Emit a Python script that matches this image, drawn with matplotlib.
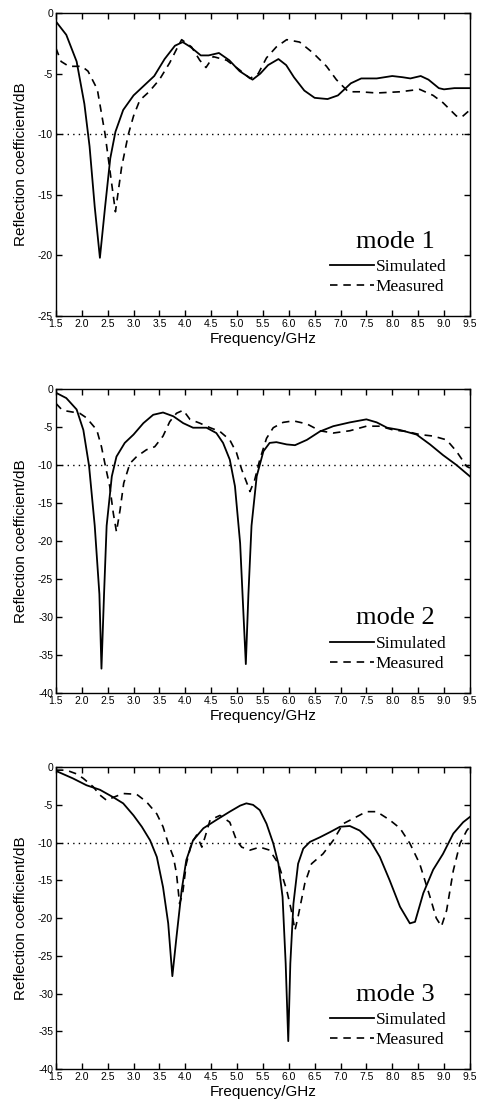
import numpy as np
import matplotlib
matplotlib.use('Agg')
import matplotlib.pyplot as plt

# --- DATA ---
# mode 1
f_sim1 = [1.5, 1.7, 1.9, 2.05, 2.15, 2.25, 2.35, 2.45, 2.55, 2.65, 2.8, 3.0, 3.2, 3.4, 3.6, 3.8,
          3.95, 4.1, 4.3, 4.45, 4.65, 4.85, 5.05, 5.3, 5.45, 5.6, 5.8, 5.95, 6.1, 6.3, 6.5, 6.75,
          6.95, 7.2, 7.4, 7.7, 8.0, 8.2, 8.35, 8.55, 8.7, 8.9, 9.0, 9.2, 9.5]
s_sim1 = [-0.7, -1.8, -4.0, -7.5, -11.0, -16.0, -20.2, -16.0, -12.0, -9.8, -8.0, -6.8, -6.0, -5.2, -3.8, -2.7,
          -2.4, -2.8, -3.5, -3.5, -3.3, -3.9, -4.8, -5.5, -5.0, -4.3, -3.8, -4.3, -5.3, -6.4, -7.0, -7.1,
          -6.8, -5.8, -5.4, -5.4, -5.2, -5.3, -5.4, -5.2, -5.5, -6.2, -6.3, -6.2, -6.2]
f_meas1 = [1.5, 1.6, 1.75, 2.0, 2.12, 2.3, 2.45, 2.55, 2.65, 2.77, 2.9, 3.0, 3.12, 3.3, 3.5, 3.7,
           3.83, 3.93, 4.12, 4.28, 4.4, 4.54, 4.8, 5.05, 5.25, 5.41, 5.57, 5.76, 5.96, 6.21, 6.47,
           6.73, 6.92, 7.15, 7.37, 7.7, 8.15, 8.53, 8.79, 8.98, 9.24, 9.34, 9.5]
s_meas1 = [-2.9, -4.0, -4.4, -4.4, -4.8, -6.3, -10.0, -13.2, -16.4, -12.7, -10.0, -8.5, -7.2, -6.5, -5.5, -4.1,
           -3.0, -2.2, -2.8, -3.9, -4.5, -3.6, -3.9, -4.7, -5.4, -5.0, -3.7, -2.8, -2.2, -2.4, -3.3,
           -4.4, -5.5, -6.5, -6.5, -6.6, -6.5, -6.3, -6.8, -7.4, -8.5, -8.6, -8.0]

# mode 2
f_sim2 = [1.5, 1.7, 1.9, 2.03, 2.14, 2.25, 2.34, 2.38, 2.43, 2.48, 2.58, 2.67, 2.83, 3.0, 3.19, 3.38,
          3.57, 3.77, 3.96, 4.15, 4.41, 4.6, 4.73, 4.86, 4.96, 5.06, 5.12, 5.17, 5.22, 5.28, 5.38,
          5.51, 5.63, 5.76, 5.96, 6.12, 6.35, 6.6, 6.86, 7.18, 7.5, 7.7, 7.9, 8.15, 8.47, 8.73,
          8.98, 9.24, 9.5]
s_sim2 = [-0.5, -1.2, -2.7, -5.4, -10.1, -18.0, -27.0, -36.8, -27.0, -18.0, -11.5, -8.9, -7.1, -6.0, -4.5, -3.4,
          -3.1, -3.6, -4.5, -5.1, -5.1, -5.8, -7.1, -9.3, -12.8, -20.3, -29.0, -36.2, -27.0, -18.0, -11.5,
          -8.2, -7.1, -7.0, -7.3, -7.4, -6.7, -5.6, -4.9, -4.4, -4.0, -4.4, -5.1, -5.4, -6.0, -7.3,
          -8.7, -10.0, -11.5]
f_meas2 = [1.5, 1.61, 1.7, 1.96, 2.09, 2.29, 2.38, 2.47, 2.54, 2.61, 2.67, 2.74, 2.81, 2.93, 3.06, 3.25,
           3.41, 3.57, 3.7, 3.83, 3.96, 4.09, 4.28, 4.48, 4.67, 4.86, 4.99, 5.09, 5.18, 5.25, 5.34,
           5.44, 5.57, 5.7, 5.89, 6.09, 6.35, 6.6, 6.86, 7.18, 7.5, 7.76, 8.02, 8.28, 8.53, 8.79,
           9.05, 9.24, 9.44, 9.5]
s_meas2 = [-1.9, -2.7, -2.9, -3.2, -3.8, -5.4, -7.6, -10.6, -12.8, -16.4, -18.8, -15.9, -12.4, -9.8, -8.9, -8.0,
           -7.6, -6.2, -4.3, -3.2, -2.8, -4.0, -4.5, -5.1, -5.6, -6.7, -8.4, -10.6, -12.2, -13.5, -12.0,
           -9.3, -6.5, -5.1, -4.4, -4.2, -4.6, -5.5, -5.8, -5.5, -4.9, -4.9, -5.4, -5.6, -6.0, -6.2,
           -6.7, -8.2, -10.2, -10.4]

# mode 3
f_sim3 = [1.5, 1.83, 2.09, 2.35, 2.61, 2.8, 3.0, 3.16, 3.32, 3.45, 3.57, 3.67, 3.75, 3.83, 3.93, 4.02,
          4.15, 4.35, 4.6, 4.86, 5.06, 5.18, 5.31, 5.44, 5.57, 5.7, 5.8, 5.88, 5.94, 5.99, 6.03,
          6.09, 6.18, 6.28, 6.41, 6.6, 6.8, 6.99, 7.18, 7.37, 7.57, 7.76, 7.95, 8.15, 8.34, 8.44,
          8.6, 8.79, 8.98, 9.18, 9.37, 9.5]
s_sim3 = [-0.5, -1.5, -2.4, -3.0, -4.0, -4.8, -6.4, -7.9, -9.7, -11.9, -15.9, -20.7, -27.7, -22.5, -16.3, -12.3,
          -9.7, -8.1, -7.0, -5.9, -5.1, -4.8, -5.0, -5.7, -7.5, -10.1, -12.8, -17.2, -26.0, -36.3, -26.0,
          -18.1, -12.8, -10.8, -9.9, -9.3, -8.6, -7.9, -7.8, -8.4, -9.7, -11.9, -15.0, -18.5, -20.7, -20.5,
          -16.7, -13.6, -11.5, -8.8, -7.3, -6.6]
f_meas3 = [1.5, 1.7, 1.9, 2.03, 2.22, 2.35, 2.48, 2.61, 2.8, 3.06, 3.25, 3.45, 3.57, 3.67, 3.77, 3.83,
           3.89, 3.95, 4.02, 4.12, 4.22, 4.32, 4.38, 4.48, 4.67, 4.86, 4.99, 5.09, 5.25, 5.44, 5.63,
           5.8, 5.96, 6.05, 6.12, 6.18, 6.31, 6.44, 6.66, 6.86, 7.05, 7.25, 7.5, 7.7, 7.95, 8.15,
           8.34, 8.53, 8.73, 8.85, 8.95, 9.05, 9.18, 9.31, 9.44, 9.5]
s_meas3 = [-0.4, -0.4, -0.9, -1.5, -2.6, -3.7, -4.4, -4.0, -3.5, -3.6, -4.6, -6.2, -7.9, -10.1, -11.9, -14.1,
           -18.1, -16.7, -12.8, -10.1, -9.0, -10.6, -9.3, -7.0, -6.4, -7.3, -9.7, -10.6, -11.0, -10.6, -11.0,
           -12.8, -16.3, -19.0, -21.6, -19.8, -15.4, -12.8, -11.5, -9.7, -7.5, -6.8, -5.9, -5.9, -7.0, -8.1,
           -10.1, -12.8, -17.2, -20.0, -21.1, -19.0, -13.7, -10.1, -8.4, -7.9]

x_ticks = [1.5, 2.0, 2.5, 3.0, 3.5, 4.0, 4.5, 5.0, 5.5, 6.0, 6.5, 7.0, 7.5, 8.0, 8.5, 9.0, 9.5]
modes = ['mode 1', 'mode 2', 'mode 3']
y_mins = [-25, -40, -40]
threshold = -10

panels = [
    (f_sim1, s_sim1, f_meas1, s_meas1),
    (f_sim2, s_sim2, f_meas2, s_meas2),
    (f_sim3, s_sim3, f_meas3, s_meas3),
]

SANS = 'Liberation Sans'
SERIF = 'Liberation Serif'

fig = plt.figure(figsize=(4.78, 11.10), dpi=100)
# axes boxes in figure fractions [left, bottom, width, height]
boxes = [
    [0.117, 0.7153, 0.866, 0.273],
    [0.117, 0.3757, 0.866, 0.2739],
    [0.117, 0.0369, 0.866, 0.272],
]

for i, (fs, ss, fm, sm) in enumerate(panels):
    ax = fig.add_axes(boxes[i])
    ax.plot(fs, ss, 'k-', lw=1.3, label='Simulated')
    ax.plot(fm, sm, 'k--', lw=1.2, dashes=(4.5, 3.5), label='Measured')
    ax.axhline(threshold, color='k', ls=(0, (1, 3)), lw=1.0)

    ax.set_xlim(1.5, 9.5)
    ax.set_ylim(y_mins[i], 0)
    ax.set_xticks(x_ticks)
    ax.set_xticklabels([f'{t:.1f}' for t in x_ticks])
    y_ticks = list(range(y_mins[i], 1, 5))
    ax.set_yticks(y_ticks)
    ax.set_yticklabels([str(t) for t in y_ticks])
    ax.tick_params(direction='in', top=True, right=True, length=4, width=1,
                   labelsize=7.5, pad=2)
    for lbl in ax.get_xticklabels() + ax.get_yticklabels():
        lbl.set_family(SANS)
    for sp in ax.spines.values():
        sp.set_linewidth(1.0)

    ax.set_xlabel('Frequency/GHz', family=SANS, fontsize=11, labelpad=2)
    ax.set_ylabel('Reflection coefficient/dB', family=SANS, fontsize=11, labelpad=7.5)

    ax.text(0.82, 0.245, modes[i], transform=ax.transAxes, family=SERIF,
            fontsize=19, ha='center', va='center')
    ax.legend(loc='lower right', bbox_to_anchor=(0.973, 0.03), frameon=False,
              prop={'family': SERIF, 'size': 12.5}, handlelength=2.5,
              handletextpad=0.12, labelspacing=0.2, borderaxespad=0.3)

fig.savefig('out.png', dpi=100)
